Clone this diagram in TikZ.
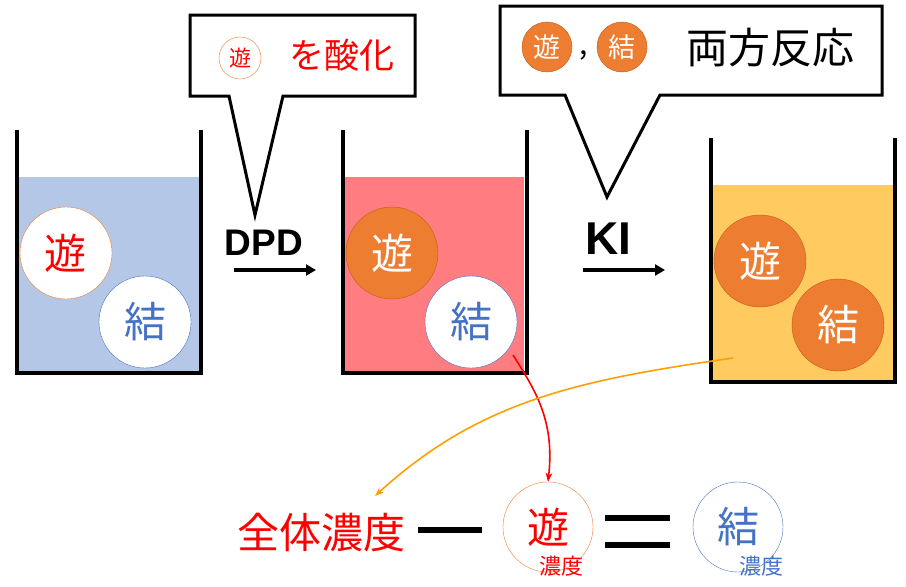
\documentclass[tikz,border=0pt]{standalone}
\usepackage{fontspec}
\usetikzlibrary{arrows.meta}
\setmainfont{Noto Sans CJK JP}
\newfontfamily\lat{Liberation Sans}
\begin{document}
\begin{tikzpicture}[x=1pt,y=-1pt,
  wall/.style={line width=4pt},
  cw/.style={circle,minimum size=92pt,inner sep=0pt,fill=white,draw,font=\fontsize{42}{42}\selectfont},
  co/.style={circle,minimum size=92pt,inner sep=0pt,fill=orgf,draw=orgd,text=white,font=\fontsize{42}{42}\selectfont},
  call/.style={line width=3pt,fill=white,line join=miter}]
\definecolor{orgf}{HTML}{ED7D31}\definecolor{orgd}{HTML}{C55A11}
\definecolor{bl}{HTML}{4472C4}\definecolor{bfill}{HTML}{B4C7E7}
\definecolor{pk}{HTML}{FF7C80}\definecolor{yl}{HTML}{FFCA60}
\definecolor{amber}{HTML}{FFA000}
\useasboundingbox (0,0) rectangle (906,587);
% beakers
\fill[bfill] (17,177) rectangle (201,373);
\draw[wall] (17,130) -- (17,373) -- (201,373) -- (201,130);
\fill[pk] (343,177) rectangle (524,373);
\draw[wall] (343,130) -- (343,373) -- (527,373) -- (527,130);
\fill[yl] (711,185) rectangle (895,382);
\draw[wall] (711,138) -- (711,382) -- (895,382) -- (895,138);
\node[cw,draw=orgf,text=red] (a1) at (66,253) {遊};
\node[cw,draw=bl,text=bl] (b1) at (145,322) {結};
\node[co] (a2) at (392,253) {遊};
\node[cw,draw=bl,text=bl] (b2) at (471,322) {結};
\node[co] (a3) at (760,261) {遊};
\node[co] (b3) at (838,325) {結};
% arrows
\node[font=\lat\bfseries\fontsize{37}{37}\selectfont] (dpd) at (264,243) {DPD};
\draw[line width=3.5pt,-{Triangle[length=10pt,width=11pt]}] (234,270) coordinate(d0) -- (316,270) coordinate(d1);
\node[font=\lat\bfseries\fontsize{46}{46}\selectfont] (ki) at (608,239) {KI};
\draw[line width=3.5pt,-{Triangle[length=10pt,width=11pt]}] (583,270) coordinate(k0) -- (665,270) coordinate(k1);
% callouts
\draw[call] (190,15) -- (415,15) -- (415,96) -- (283,96) -- (255,215) -- (229,96) -- (190,96) -- cycle;
\node[circle,minimum size=42pt,inner sep=0pt,draw=orgf,text=red,font=\fontsize{22}{22}\selectfont] (c1) at (240,58) {遊};
\node[text=red,font=\fontsize{35}{35}\selectfont] (t1) at (342,55) {を酸化};
\draw[call] (500,6) -- (882,6) -- (882,95) -- (660,95) -- (607,197) -- (565,95) -- (500,95) -- cycle;
\node[co,minimum size=50pt,font=\fontsize{27}{27}\selectfont] (c2) at (547,47) {遊};
\node[font=\fontsize{30}{30}\selectfont] (cm) at (584,55) {,};
\node[co,minimum size=50pt,font=\fontsize{27}{27}\selectfont] (c3) at (622,47) {結};
\node[font=\fontsize{42}{42}\selectfont] (t2) at (770,48) {両方反応};
% bottom equation
\node[text=red,font=\fontsize{42}{42}\selectfont] (tot) at (321,533) {全体濃度};
\draw[line width=6pt] (418,530) coordinate(m0) -- (482,530) coordinate(m1);
\node[cw,minimum size=90pt,draw=orgf,text=red,fill=none] (fa) at (548,527) {遊};
\node[text=red,font=\fontsize{22}{22}\selectfont] (fas) at (561,566) {濃度};
\draw[line width=6pt] (605,518) coordinate(e0) -- (670,518) coordinate(e1);
\draw[line width=6pt] (605,545) coordinate(e2) -- (670,545) coordinate(e3);
\node[cw,minimum size=90pt,draw=bl,text=bl,fill=none] (fb) at (738,527) {結};
\node[text=bl,font=\fontsize{22}{22}\selectfont] (fbs) at (761,566) {濃度};
\coordinate (r0) at (513,355);
\draw[red,line width=1.6pt,-{Stealth[length=9pt]}] (r0) .. controls (535,390) and (555,420) .. (fa.north);
\coordinate (o0) at (733,358);
\draw[amber,line width=1.6pt,-{Stealth[length=9pt]}] (o0) .. controls (580,380) and (480,400) .. (375,496) coordinate(o1);
\end{tikzpicture}
\end{document}
